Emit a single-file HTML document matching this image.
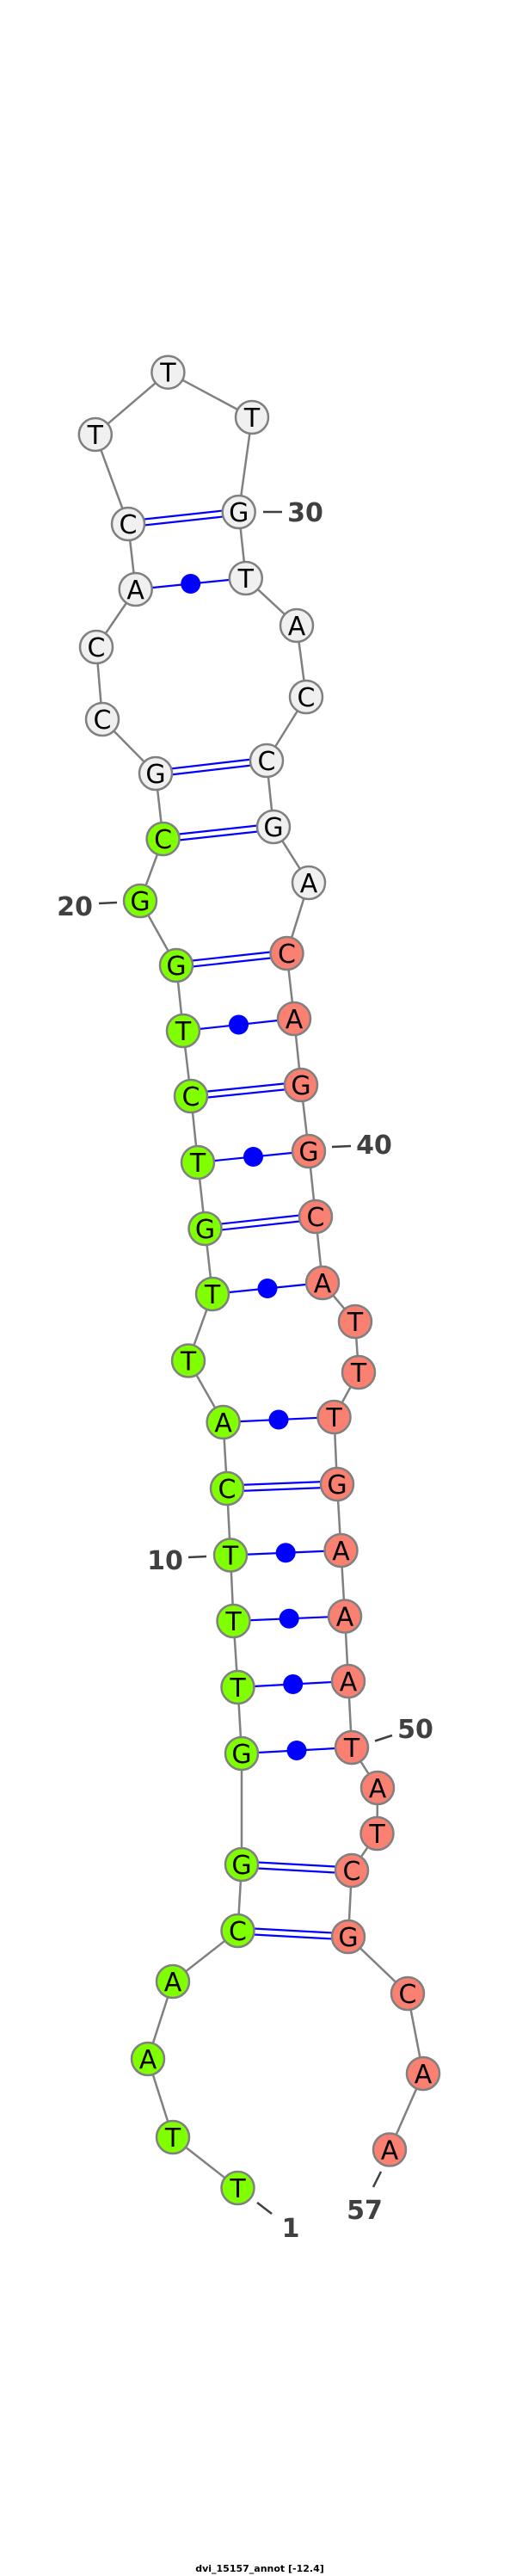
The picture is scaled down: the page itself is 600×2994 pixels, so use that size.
<!DOCTYPE html>
<html><head><meta charset="utf-8"><style>html,body{margin:0;padding:0;background:#fff}svg{display:block}</style></head>
<body>
<svg width="600" height="2994" viewBox="0 0 600 2994" xmlns="http://www.w3.org/2000/svg">
<rect width="600" height="2994" fill="#fff"/>
<polyline fill="none" stroke="#808080" stroke-width="2.5" points="276.5,2543 201,2484 172,2393 201,2303 276.5,2244 281,2167 281,2038 276.5,1961 271.5,1884 268,1807.5 264,1730 259.6,1653 219,1581.5 247,1504 238.5,1428 230,1351 222,1274 213,1198 205,1122 163,1047 189.6,975 181,899 119,836 112,752 157.7,685 149,609 110.8,505 195.4,432.7 293,485 277.7,595 285.8,672 345,727 356,810 310,884 318,961 359,1026 333.5,1108 342,1184 350,1261 359,1338 367,1414 375,1491 413,1536 417,1595 388.5,1647 392,1725 396.5,1802 401,1878.5 405,1954 409,2031 439,2078 438.5,2131 409,2174 405,2251 474,2317 492,2410 453,2498.5"/>
<g stroke="#0000ff" stroke-width="2.2" fill="none">
<!-- double lines -->
<line x1="276.5" y1="2240.5" x2="405" y2="2247.5"/><line x1="276.5" y1="2247.5" x2="405" y2="2254.5"/>
<line x1="281" y1="2163.5" x2="409" y2="2170.5"/><line x1="281" y1="2170.5" x2="409" y2="2177.5"/>
<line x1="264" y1="1726.5" x2="392" y2="1721.5"/><line x1="264" y1="1733.5" x2="392" y2="1728.5"/>
<line x1="238.5" y1="1424.5" x2="367" y2="1410.5"/><line x1="238.5" y1="1431.5" x2="367" y2="1417.5"/>
<line x1="222" y1="1270.5" x2="350" y2="1257.5"/><line x1="222" y1="1277.5" x2="350" y2="1264.5"/>
<line x1="205" y1="1118.5" x2="333.5" y2="1104.5"/><line x1="205" y1="1125.5" x2="333.5" y2="1111.5"/>
<line x1="189.6" y1="971.5" x2="318" y2="957.5"/><line x1="189.6" y1="978.5" x2="318" y2="964.5"/>
<line x1="181" y1="895.5" x2="310" y2="880.5"/><line x1="181" y1="902.5" x2="310" y2="887.5"/>
<line x1="149" y1="605.5" x2="277.7" y2="591.5"/><line x1="149" y1="612.5" x2="277.7" y2="598.5"/>
<!-- single lines -->
<line x1="281" y1="2038" x2="409" y2="2031"/>
<line x1="276.5" y1="1961" x2="405" y2="1954"/>
<line x1="271.5" y1="1884" x2="401" y2="1878.5"/>
<line x1="268" y1="1807.5" x2="396.5" y2="1802"/>
<line x1="259.6" y1="1653" x2="388.5" y2="1647"/>
<line x1="247" y1="1504" x2="375" y2="1491"/>
<line x1="230" y1="1351" x2="359" y2="1338"/>
<line x1="213" y1="1198" x2="342" y2="1184"/>
<line x1="157.7" y1="685" x2="285.8" y2="672"/>
</g>
<g fill="#0000ff">
<circle cx="345" cy="2034.5" r="11.5"/>
<circle cx="340.7" cy="1957.5" r="11.5"/>
<circle cx="336.2" cy="1881.2" r="11.5"/>
<circle cx="332.2" cy="1804.7" r="11.5"/>
<circle cx="324" cy="1650" r="11.5"/>
<circle cx="311" cy="1497.5" r="11.5"/>
<circle cx="294.5" cy="1344.5" r="11.5"/>
<circle cx="277.5" cy="1191" r="11.5"/>
<circle cx="221.7" cy="678.5" r="11.5"/>
</g>
<g stroke="#808080" stroke-width="2.5">
<g fill="#7fff00">
<circle cx="276.5" cy="2543" r="19"/><circle cx="201" cy="2484" r="19"/><circle cx="172" cy="2393" r="19"/><circle cx="201" cy="2303" r="19"/><circle cx="276.5" cy="2244" r="19"/><circle cx="281" cy="2167" r="19"/><circle cx="281" cy="2038" r="19"/><circle cx="276.5" cy="1961" r="19"/><circle cx="271.5" cy="1884" r="19"/><circle cx="268" cy="1807.5" r="19"/><circle cx="264" cy="1730" r="19"/><circle cx="259.6" cy="1653" r="19"/><circle cx="219" cy="1581.5" r="19"/><circle cx="247" cy="1504" r="19"/><circle cx="238.5" cy="1428" r="19"/><circle cx="230" cy="1351" r="19"/><circle cx="222" cy="1274" r="19"/><circle cx="213" cy="1198" r="19"/><circle cx="205" cy="1122" r="19"/><circle cx="163" cy="1047" r="19"/><circle cx="189.6" cy="975" r="19"/>
</g>
<g fill="#f0f0f0">
<circle cx="181" cy="899" r="19"/><circle cx="119" cy="836" r="19"/><circle cx="112" cy="752" r="19"/><circle cx="157.7" cy="685" r="19"/><circle cx="149" cy="609" r="19"/><circle cx="110.8" cy="505" r="19"/><circle cx="195.4" cy="432.7" r="19"/><circle cx="293" cy="485" r="19"/><circle cx="277.7" cy="595" r="19"/><circle cx="285.8" cy="672" r="19"/><circle cx="345" cy="727" r="19"/><circle cx="356" cy="810" r="19"/><circle cx="310" cy="884" r="19"/><circle cx="318" cy="961" r="19"/><circle cx="359" cy="1026" r="19"/>
</g>
<g fill="#fa8072">
<circle cx="333.5" cy="1108" r="19"/><circle cx="342" cy="1184" r="19"/><circle cx="350" cy="1261" r="19"/><circle cx="359" cy="1338" r="19"/><circle cx="367" cy="1414" r="19"/><circle cx="375" cy="1491" r="19"/><circle cx="413" cy="1536" r="19"/><circle cx="417" cy="1595" r="19"/><circle cx="388.5" cy="1647" r="19"/><circle cx="392" cy="1725" r="19"/><circle cx="396.5" cy="1802" r="19"/><circle cx="401" cy="1878.5" r="19"/><circle cx="405" cy="1954" r="19"/><circle cx="409" cy="2031" r="19"/><circle cx="439" cy="2078" r="19"/><circle cx="438.5" cy="2131" r="19"/><circle cx="409" cy="2174" r="19"/><circle cx="405" cy="2251" r="19"/><circle cx="474" cy="2317" r="19"/><circle cx="492" cy="2410" r="19"/><circle cx="453" cy="2498.5" r="19"/>
</g>
</g>
<g font-family="'DejaVu Sans','Liberation Sans',sans-serif" font-size="30" text-anchor="middle" fill="#000">
<text x="276.5" y="2554">T</text><text x="201" y="2495">T</text><text x="172" y="2404">A</text><text x="201" y="2314">A</text><text x="276.5" y="2255">C</text><text x="281" y="2178">G</text><text x="281" y="2049">G</text><text x="276.5" y="1972">T</text><text x="271.5" y="1895">T</text><text x="268" y="1818.5">T</text><text x="264" y="1741">C</text><text x="259.6" y="1664">A</text><text x="219" y="1592.5">T</text><text x="247" y="1515">T</text><text x="238.5" y="1439">G</text><text x="230" y="1362">T</text><text x="222" y="1285">C</text><text x="213" y="1209">T</text><text x="205" y="1133">G</text><text x="163" y="1058">G</text><text x="189.6" y="986">C</text>
<text x="181" y="910">G</text><text x="119" y="847">C</text><text x="112" y="763">C</text><text x="157.7" y="696">A</text><text x="149" y="620">C</text><text x="110.8" y="516">T</text><text x="195.4" y="443.7">T</text><text x="293" y="496">T</text><text x="277.7" y="606">G</text><text x="285.8" y="683">T</text><text x="345" y="738">A</text><text x="356" y="821">C</text><text x="310" y="895">C</text><text x="318" y="972">G</text><text x="359" y="1037">A</text>
<text x="333.5" y="1119">C</text><text x="342" y="1195">A</text><text x="350" y="1272">G</text><text x="359" y="1349">G</text><text x="367" y="1425">C</text><text x="375" y="1502">A</text><text x="413" y="1547">T</text><text x="417" y="1606">T</text><text x="388.5" y="1658">T</text><text x="392" y="1736">G</text><text x="396.5" y="1813">A</text><text x="401" y="1889.5">A</text><text x="405" y="1965">A</text><text x="409" y="2042">T</text><text x="439" y="2089">A</text><text x="438.5" y="2142">T</text><text x="409" y="2185">C</text><text x="405" y="2262">G</text><text x="474" y="2328">C</text><text x="492" y="2421">A</text><text x="453" y="2509.5">A</text>
</g>
<g stroke="#404040" stroke-width="2.5">
<line x1="306" y1="595" x2="328" y2="595"/>
<line x1="115" y1="1050" x2="136" y2="1049"/>
<line x1="386" y1="1333" x2="408" y2="1332"/>
<line x1="219" y1="1810" x2="240" y2="1809"/>
<line x1="436" y1="2023.5" x2="456" y2="2017"/>
<line x1="299" y1="2560" x2="316" y2="2573"/>
<line x1="443" y1="2524" x2="434" y2="2542"/>
</g>
<g font-family="'DejaVu Sans','Liberation Sans',sans-serif" font-size="30" font-weight="bold" fill="#404040" text-anchor="middle">
<text x="355" y="606">30</text>
<text x="87" y="1064">20</text>
<text x="435" y="1341">40</text>
<text x="192" y="1824">10</text>
<text x="483" y="2020">50</text>
<text x="338" y="2600">1</text>
<text x="424" y="2579">57</text>
</g>
<text x="302" y="2989" font-family="'DejaVu Sans','Liberation Sans',sans-serif" font-size="11" font-weight="bold" text-anchor="middle" fill="#000">dvi_15157_annot [-12.4]</text>
</svg>
</body></html>
